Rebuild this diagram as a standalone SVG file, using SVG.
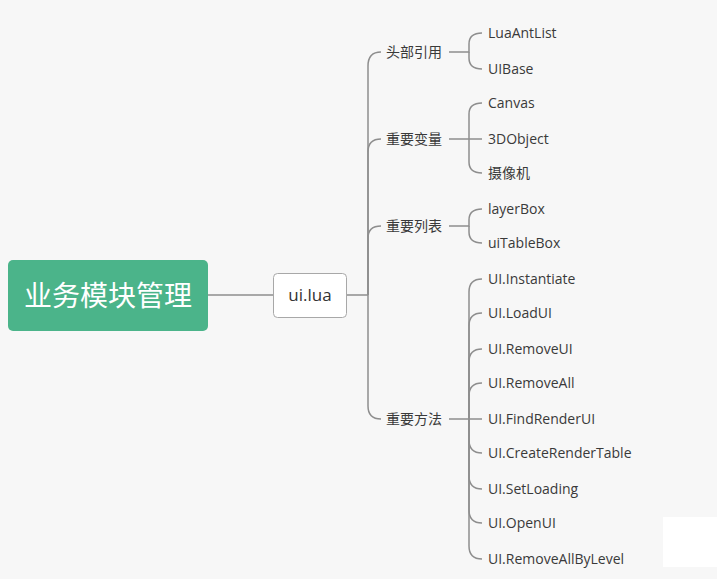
<svg xmlns="http://www.w3.org/2000/svg" width="717" height="579" viewBox="0 0 717 579">
<style>
.ln{fill:none;stroke:#8e8e8e;stroke-width:1.5}
.lbl{font-family:"Microsoft YaHei","Noto Sans CJK SC","Liberation Sans",sans-serif;font-size:14px;fill:#3a3a3a}
.leaf{font-family:"Open Sans","Liberation Sans","Noto Sans CJK SC",sans-serif;font-size:14px;fill:#3a3a3a}
</style>
<rect width="717" height="579" fill="#f7f7f7"/>
<rect x="663" y="517" width="54" height="50" fill="#ffffff"/>
<g id="connectors">
<path class="ln" d="M208 295 H273"/>
<path class="ln" d="M347 295 H368"/>
<path class="ln" d="M368 295 V66 Q368 52 381 52"/>
<path class="ln" d="M368 295 V152 Q368 139 381 139"/>
<path class="ln" d="M368 295 V238 Q368 226 381 226"/>
<path class="ln" d="M368 295 V406 Q368 419 381 419"/>
<path class="ln" d="M449 52 H469 V44 Q469 33 482 33"/>
<path class="ln" d="M469 52 V58 Q469 69 482 69"/>
<path class="ln" d="M449 139 H482"/>
<path class="ln" d="M469 139 V114 Q469 103 482 103"/>
<path class="ln" d="M469 139 V162 Q469 173 482 173"/>
<path class="ln" d="M449 226 H469 V220 Q469 209 482 209"/>
<path class="ln" d="M469 226 V232 Q469 243 482 243"/>
<path class="ln" d="M449 419 H482"/>
<path class="ln" d="M469 419 V292 Q469 279 482 279"/>
<path class="ln" d="M469 419 V326 Q469 313 482 313"/>
<path class="ln" d="M469 419 V362 Q469 349 482 349"/>
<path class="ln" d="M469 419 V396 Q469 383 482 383"/>
<path class="ln" d="M469 419 V440 Q469 453 482 453"/>
<path class="ln" d="M469 419 V476 Q469 489 482 489"/>
<path class="ln" d="M469 419 V510 Q469 523 482 523"/>
<path class="ln" d="M469 419 V546 Q469 559 482 559"/>
</g>
<g id="root">
<rect x="8" y="260" width="200" height="71" rx="5" fill="#4bb48a"/>
<text x="108" y="306" text-anchor="middle" font-family="Microsoft YaHei,Noto Sans CJK SC,sans-serif" font-size="28" fill="#ffffff">业务模块管理</text>
</g>
<g id="uilua">
<rect x="273.5" y="273.5" width="73" height="44" rx="4" fill="#ffffff" stroke="#a8a8a8" stroke-width="1"/>
<text x="310" y="301" text-anchor="middle" font-family="Open Sans,Liberation Sans,sans-serif" font-size="17" fill="#333">ui.lua</text>
</g>
<g id="b1"><text class="lbl" x="386" y="57">头部引用</text></g>
<g id="b2"><text class="lbl" x="386" y="144">重要变量</text></g>
<g id="b3"><text class="lbl" x="386" y="231">重要列表</text></g>
<g id="b4"><text class="lbl" x="386" y="424">重要方法</text></g>
<g id="l1"><text class="leaf" x="488" y="38">LuaAntList</text></g>
<g id="l2"><text class="leaf" x="488" y="74">UIBase</text></g>
<g id="l3"><text class="leaf" x="488" y="108">Canvas</text></g>
<g id="l4"><text class="leaf" x="488" y="144">3DObject</text></g>
<g id="l5"><text class="leaf" x="488" y="178">摄像机</text></g>
<g id="l6"><text class="leaf" x="488" y="214">layerBox</text></g>
<g id="l7"><text class="leaf" x="488" y="248">uiTableBox</text></g>
<g id="l8"><text class="leaf" x="488" y="284">UI.Instantiate</text></g>
<g id="l9"><text class="leaf" x="488" y="318">UI.LoadUI</text></g>
<g id="l10"><text class="leaf" x="488" y="354">UI.RemoveUI</text></g>
<g id="l11"><text class="leaf" x="488" y="388">UI.RemoveAll</text></g>
<g id="l12"><text class="leaf" x="488" y="424">UI.FindRenderUI</text></g>
<g id="l13"><text class="leaf" x="488" y="458">UI.CreateRenderTable</text></g>
<g id="l14"><text class="leaf" x="488" y="494">UI.SetLoading</text></g>
<g id="l15"><text class="leaf" x="488" y="528">UI.OpenUI</text></g>
<g id="l16"><text class="leaf" x="488" y="564">UI.RemoveAllByLevel</text></g>
</svg>
